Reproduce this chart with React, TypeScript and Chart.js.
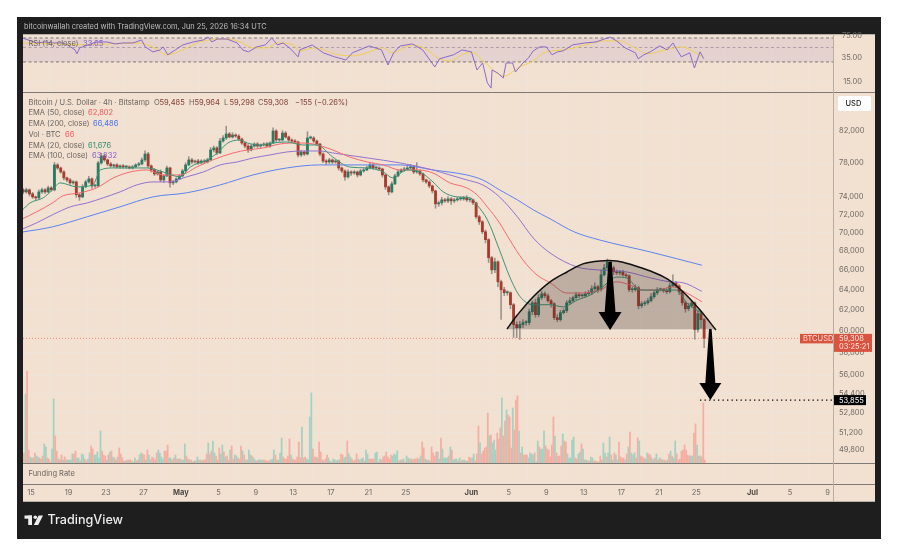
import React, { useEffect, useRef } from "react";
import { Chart, registerables } from "chart.js";

Chart.register(...registerables);

// ---------- tick labels ----------
const priceTicks = [82000, 78000, 74000, 72000, 70000, 68000, 66000, 64000, 62000, 60000, 58000, 56000, 54400, 52800, 51200, 49800];
const rsiTicks = [75, 35, 15];
const dateTickDays = [0, 4, 8, 12, 16, 20, 24, 28, 32, 36, 40, 47, 51, 55, 59, 63, 67, 71, 77, 81, 85];
const dateTickLabels = ["15", "19", "23", "27", "May", "5", "9", "13", "17", "21", "25", "Jun", "5", "9", "13", "17", "21", "25", "Jul", "5", "9"];
const monthLabels = ["May", "Jun", "Jul"];

// ---------- candles: one every 8 hours, days counted from Apr 15 ----------
const firstCandleDay = -0.83;
const firstOpen = 74800;
const closes = [
  74560, 74800, 74330, 73980, 73870, 74560, 74800, 74560, 75030, 74800,
  77770, 77400, 76920, 76210, 75970, 75620, 75730, 74220, 73980, 75150,
  75730, 76090, 75260, 75260, 78010, 78870, 78380, 77890, 77650, 77770,
  77530, 77650, 77530, 77530, 77400, 77530, 77770, 77890, 78380, 79110,
  77650, 77160, 76680, 76920, 75970, 76450, 77400, 75620, 75730, 76090,
  76450, 77040, 77770, 78380, 78130, 78250, 78010, 78250, 78130, 78380,
  79610, 79860, 79240, 80730, 81110, 81620, 81240, 81490, 81360, 80980,
  80480, 80100, 79610, 80100, 80350, 80100, 80230, 80350, 80100, 80480,
  82000, 80860, 80860, 81740, 81240, 80860, 80730, 80610, 78990, 79360,
  79110, 81110, 81110, 80730, 80350, 79110, 78250, 78130, 78380, 78130,
  78250, 77400, 77040, 76330, 76920, 76800, 76920, 76560, 77040, 77160,
  77400, 77770, 77400, 77400, 77280, 76560, 75150, 74560, 75500, 76450,
  76920, 77160, 77280, 77400, 77530, 76920, 77040, 76680, 75970, 75730,
  75260, 74680, 73180, 73300, 73640, 73520, 73750, 73520, 73640, 73750,
  73750, 73870, 73640, 73640, 73300, 71720, 71160, 70060, 69200, 67270,
  66010, 66840, 64790, 63990, 63690, 63690, 62510, 60600, 60310, 60600,
  60780, 60780, 61830, 62700, 61550, 63200, 63590, 63390, 62900, 62610,
  61260, 61070, 61740, 61930, 62700, 62900, 63200, 63490, 63390, 63390,
  63590, 63690, 64090, 64290, 63990, 65500, 66220, 66840, 66220, 65810,
  65700, 65810, 65500, 65400, 63990, 63990, 64190, 62410, 62610, 62700,
  62900, 63300, 63690, 63990, 63990, 63890, 63790, 64390, 64690, 64390,
  63790, 62700, 62120, 62410, 62700, 60130, 61640, 61070, 59308,
];
const wickUp = [
  150, 200, 120, 180, 100, 250, 200, 150, 220, 150,
  300, 180, 120, 150, 100, 200, 150, 120, 180, 260,
  200, 300, 120, 150, 200, 350, 150, 120, 180, 100,
  150, 120, 180, 100, 130, 200, 150, 180, 250, 400,
  200, 120, 180, 150, 250, 120, 220, 100, 180, 130,
  150, 200, 250, 400, 180, 120, 200, 150, 180, 200,
  300, 250, 180, 350, 300, 1000, 200, 300, 150, 180,
  120, 100, 180, 200, 150, 180, 130, 160, 200, 150,
  400, 180, 150, 300, 200, 120, 150, 180, 100, 200,
  150, 810, 250, 180, 120, 100, 150, 180, 200, 120,
  180, 120, 100, 150, 250, 130, 180, 120, 200, 180,
  220, 250, 180, 130, 150, 100, 90, 120, 250, 200,
  180, 150, 200, 220, 300, 180, 1000, 150, 120, 100,
  120, 100, 90, 200, 300, 180, 260, 150, 180, 200,
  220, 180, 250, 130, 100, 80, 150, 120, 200, 100,
  150, 400, 120, 180, 250, 200, 100, 120, 250, 300,
  300, 200, 250, 180, 350, 300, 250, 180, 200, 150,
  120, 300, 250, 180, 220, 300, 150, 250, 180, 150,
  200, 250, 300, 400, 150, 500, 350, 300, 120, 180,
  200, 150, 180, 120, 100, 250, 300, 180, 220, 180,
  250, 300, 200, 220, 180, 150, 200, 300, 800, 150,
  120, 100, 180, 250, 200, 100, 300, 250, 120,
];
const wickDown = [
  200, 150, 250, 180, 300, 120, 180, 220, 100, 150,
  120, 180, 150, 250, 200, 180, 150, 300, 400, 100,
  120, 150, 300, 180, 100, 150, 180, 220, 150, 200,
  120, 180, 150, 200, 120, 130, 100, 150, 120, 180,
  200, 250, 180, 150, 200, 300, 100, 500, 200, 120,
  100, 150, 120, 100, 200, 150, 180, 120, 200, 130,
  120, 250, 200, 100, 150, 180, 120, 150, 180, 200,
  180, 250, 300, 120, 150, 180, 200, 150, 120, 180,
  100, 200, 180, 120, 150, 180, 200, 150, 250, 180,
  200, 120, 150, 200, 180, 250, 200, 300, 180, 200,
  150, 250, 200, 400, 150, 300, 180, 250, 120, 150,
  100, 120, 180, 200, 150, 250, 300, 350, 120, 100,
  120, 100, 180, 150, 120, 200, 150, 180, 250, 180,
  200, 250, 500, 300, 250, 180, 200, 400, 200, 150,
  180, 150, 200, 250, 200, 180, 300, 200, 350, 500,
  400, 300, 500, 2900, 300, 250, 400, 1200, 930, 1100,
  300, 250, 200, 300, 250, 200, 180, 200, 150, 350,
  200, 200, 150, 120, 180, 150, 120, 180, 200, 150,
  120, 100, 180, 200, 300, 150, 120, 200, 250, 300,
  180, 200, 150, 180, 200, 250, 150, 300, 200, 180,
  150, 120, 180, 200, 150, 180, 200, 120, 100, 180,
  300, 250, 350, 200, 150, 900, 250, 800, 850,
];

// ---------- volume: one every 4 hours, positive = up bar, negative = down bar ----------
const firstVolumeDay = -0.75;
const volumes = [
  -10, 69, -92, -13, 6, 5, -5, -10, 7, 6, -5, -4, -7, 19, 16, -5, -4, -1, 14, 64, -27, -12, 4, -3, -8, 3, -6, -3, 3, 3, 3, 9, -9, -12, 5, 5, -2, 9, 8, -4,
  -2, 4, 10, -17, -14, 8, 8, 11, 5, 32, -12, -8, -7, 3, -8, 11, -12, 6, -5, -3, 6, -15, -9, -5, -2, 2, -3, 3, -3, -2, 1, 5, -2, -3, 8, 10, -9, -8, 3, -13,
  8, 3, -6, -5, -3, -10, 13, 10, 6, 4, -12, -12, -18, 5, 5, -3, -5, 8, -4, 4, -4, 3, 3, 19, -7, -4, 3, -3, -1, 2, -2, 6, 3, -3, 2, -3, -3, -9, 20, -9,
  -12, 22, 10, -7, -3, -15, 9, 18, -11, 6, -7, -3, 13, -17, -4, 8, 7, -5, -4, -17, 12, -8, 3, -3, 13, 8, -7, 5, 3, -2, 3, -3, 3,
  3, -3, -2, -2, -2, 3, 4, 13, -8, -3, 3, 10, 25, -6, -4, -4, -7, -24, 8, -4, -3, -3, -6, -21, -5, 36, -5, -6, 4, 3, 46, 70, -14, -6, -6, 5, -21, -11, -3, 2,
  -4, -8, 5, 2, -1, 4, 3, -2, 3, 3, -9, -8, 5, 6, -22, 9, 6, -4, -2, -3, -9, 4, -3, 4, 5, -2, 13, 9, -4, -4, -4, -4, 10, 11, -1, 4, -3, -6, -7, -11,
  -6, -4, -8, 7, 9, 8, 12, -2, -3, 3, 4, -1, 7, 5, -4, 4, -3, -4, -4, -5, 4, 7, -21, -15, 4, 3, -3, 2, -16, -10, -7, -11, 11, 4, -25, 14, 5, 5, 5, -7,
  16, -13, 3, 4, 4, -2, 5, -2, 3, 3, -2, 2, -6, -5, 5, 9, -2, -9, -37, 20, -9,
  -12, -15, -16, -50, 27, -28, 20, 23, 13, -30, -24, -35, 65, -27, -42, 53, -48, -46, -15, 55, -33, -63, -67, 32, -10, 16, -8, -8, -8, 5, 10, 9, 8, -10, 1, 22, -16, 14, 14, 32,
  -17, -14, -13, -6, -18, -46, 27, -10, -7, -7, -17, 29, -22, -21, 9, 5, 5, 23, 26, -5, -4, 9, 11, -19, 14, -3, 3, 2, -2, 6, 5, -2, -2, -1, 1, -7, -3, 20, 10, -6,
  10, 26, -8, 3, -10, 8, 3, -21, -6, -5, -5, 3, -9, 16, -31, 10, 8, 10, -5, -25, 22, -7, -6, -5, 4, 10, -9, -8, 5, 3, -5, 9, -3, 5, -4, 3, -3, -2, 3, -9,
  12, -7, 5, 22, -9, -3, -4, -12, -13, -18, -13, -8, -7, 7, 7, -30, -39, 18, -7, 7, -6, -60, -3,
];

// ---------- moving averages ----------
const ema200Days = [-0.9, 2.3, 6, 9.5, 13, 16.6, 20.2, 23.7, 27.3, 30.8, 32.2, 35.9, 39.4, 42.9, 46.5, 48.2, 50, 51.9, 53.6, 55.4, 58, 60.7, 66.1, 71.6];
const ema200 = [70030, 70600, 71720, 72840, 73980, 74450, 75380, 76560, 77400, 77770, 77770, 77770, 77770, 77160, 76560, 75970, 74800, 73640, 72500, 71490, 70030, 69160, 67880, 66486];

const ema100Days = [-0.9, 0.6, 2.3, 4.2, 6, 7.7, 9.5, 11.3, 13, 14.8, 16.6, 18.4, 20.2, 22, 23.7, 25.5, 27.3, 29, 30.8, 32.2, 35.9, 39.4, 42.9, 44.7, 46.5, 48.2, 50, 51.9, 53.6, 55.4, 58.3, 60.7, 63.6, 66.1, 68.2, 69.6, 71.6];
const ema100 = [70360, 71040, 71940, 72840, 73290, 73870, 74560, 75380, 75730, 75730, 76330, 76920, 77770, 78130, 78620, 78990, 79360, 79480, 79480, 79240, 78620, 78010, 77160, 76560, 75970, 75380, 73980, 71720, 69380, 67770, 66300, 65990, 65790, 65190, 64790, 64690, 63832];

const ema50Days = [-0.9, 0.6, 2.3, 3.4, 5.2, 7, 8.8, 10.6, 12.4, 14.1, 15.9, 17.7, 19.4, 21.6, 23.1, 24.8, 26.6, 28.4, 30.1, 32.2, 34, 35.9, 37.6, 39.4, 41.2, 42.9, 44.7, 46.5, 47.6, 48.7, 50, 51.1, 52.5, 54, 55.4, 57.2, 58.9, 60.7, 62.5, 63.9, 65.3, 66.8, 68.5, 70, 71.6];
const ema50 = [71490, 72270, 73290, 74100, 74450, 75030, 76210, 76920, 77160, 76560, 76560, 77520, 78380, 79240, 79610, 79860, 80360, 80480, 80360, 79610, 78740, 78130, 77770, 77160, 77160, 76800, 75620, 75030, 74220, 72840, 71040, 69160, 67040, 65480, 64690, 63660, 63660, 63960, 64790, 64480, 63960, 63960, 64280, 63660, 62802];

const ema20Days = [-0.9, -0.1, 1.3, 2.3, 3.1, 4.9, 6.6, 7.4, 8.8, 10.6, 12.4, 14.1, 15.9, 17, 18.8, 19.9, 21, 22.3, 23.1, 24.4, 25.8, 27.3, 29, 30.5, 32.2, 34, 35.9, 37.6, 38.6, 40.1, 41.5, 42.9, 44, 45.5, 46.9, 47.6, 48.7, 50, 51.1, 52.2, 53.6, 55.4, 56.8, 58.3, 59.7, 61, 62.5, 63.6, 65, 66.8, 68.9, 70, 71.6];
const ema20 = [72500, 73290, 73870, 74800, 75620, 75150, 75380, 77160, 77400, 77400, 77400, 76920, 76330, 77520, 78380, 79240, 80480, 80860, 80480, 80230, 80480, 80610, 80230, 80230, 78740, 77520, 77400, 76920, 76210, 77160, 76920, 75730, 74560, 73980, 73870, 73060, 71380, 68090, 65270, 63300, 62510, 62510, 62300, 62970, 63470, 64280, 65270, 65170, 63960, 63960, 63960, 62670, 61676];

// ---------- RSI and its moving average ----------
const rsiDays = [
  -0.9, -0.3, 0.6, 1.5, 2.3, 3.4, 3.9, 4.7, 4.9, 5.2, 6.1, 7, 8.1, 9, 9.8, 10.9, 11.8, 12.2, 13, 13.8, 14.1, 14.6, 15.4, 16.2, 17.3, 18.4, 18.9, 19.3, 19.9, 20.9, 22, 22.6, 23.2, 24.1, 25, 25.7, 26.3, 26.9, 27.6, 28.5,
  28.7, 30, 31.2, 32.4, 32.8, 33.6, 34.3, 36.1, 37.4, 38.1, 38.7, 39.4, 40.7, 41.8, 43.1, 43.6, 45.1, 46, 47, 47.6, 48.2, 48.7, 49.1, 49.2, 49.8, 50.4, 50.7, 51.4, 51.7, 52.5, 53.1, 53.6, 54.3, 55, 55.6, 56.2, 56.8, 57.8, 59.1, 60.3, 61.2, 61.8, 62.5, 63.4, 64.5, 64.8, 65.4, 66.1, 67.1, 67.9, 68.5, 69.4, 70.3, 70.8, 71.4, 71.8,
];
const rsiValues = [
  69.9, 65.2, 58.7, 60.8, 58.7, 58.7, 54.7, 45.9, 39.9, 49.3, 54.7, 60.8, 60.8, 56.7, 58.7, 58.7, 65.2, 51, 42.8, 45.9, 51, 38.6, 45.9, 54.7, 60.8, 65.2, 72.4, 60.8, 67.5, 67.5, 58.7, 45.9, 42.8, 51, 54.7, 69.9, 54.7, 58.7, 49.3, 35.9,
  45.9, 54.7, 41.4, 35.9, 34.7, 32.1, 41.4, 52.8, 45.9, 26.9, 41.4, 52.8, 56.7, 45.9, 25.1, 33.5, 38.6, 45.9, 42.8, 22.6, 28.9, 14.3, 11.9, 22.6, 20.3, 17, 28.9, 28.9, 21, 28.9, 34.7, 44.4, 51, 51, 38.6, 42.8, 44.4, 54.7, 58.7, 60.8, 67.5, 72.4, 63, 49.3, 41.4, 33.5, 38.6, 42.8, 52.8, 45.9, 58.7, 35.9, 41.4, 24.2, 42.8, 33.65,
];
const rsiMaDays = [-0.9, 3.1, 5.5, 8.4, 11.6, 13.2, 14.5, 16.2, 18, 20.9, 22.3, 23.7, 25.2, 26.3, 28, 28.7, 30.3, 32.8, 34.5, 36.1, 37.6, 38.5, 40.7, 42.3, 43.4, 44.7, 46, 47, 48.5, 50.5, 52.1, 53.4, 55, 57, 59.1, 61.2, 62.8, 64.5, 65.8, 67.7, 69.4, 71, 71.8];
const rsiMaValues = [58.7, 56.7, 54.7, 56.7, 58.7, 49.3, 38.6, 45.9, 60.8, 67.5, 60.8, 49.3, 49.3, 58.7, 54.7, 44.4, 49.3, 38.6, 37.3, 42.8, 49.3, 41.4, 54.7, 45.9, 34.7, 31, 38.6, 42.8, 28.9, 18.2, 25.1, 30, 42.8, 45.9, 54.7, 63, 63, 49.3, 39.9, 45.9, 51, 41.4, 34.7];

// ---------- drawings on the chart ----------
const domeDays = [50.8, 51.9, 53.6, 55.4, 57.2, 58.9, 60.7, 62.5, 64.2, 66.1, 67.9, 69.6, 71.4, 73.1];
const domePrices = [60190, 61510, 63300, 64790, 65790, 66630, 66940, 66940, 66510, 65890, 65080, 63760, 61990, 60090];
const domeBase = 60150;
const targetPrice = 53855;
const lastPrice = 59308;
const measuredArrow = { day: 61.8, from: 66820, to: 60090 };
const targetArrow = { day: 72.5, from: 60190, to: 53855 };

// ---------- texts ----------
const titleText = "bitcoinwallah created with TradingView.com, Jun 25, 2026 16:34 UTC";
const rsiLegend = { label: "RSI (14, close)", value: "33.65" };
const symbolLegend = "Bitcoin / U.S. Dollar · 4h · Bitstamp";
const ohlcLegend: [string, string][] = [["O", "59,485"], ["H", "59,964"], ["L", "59,298"], ["C", "59,308"]];
const changeLegend = "−155 (−0.26%)";
const indicatorLegends: [string, string, string][] = [
  ["EMA (50, close)", "62,802", "#F2545F"],
  ["EMA (200, close)", "66,486", "#3F6FF0"],
  ["Vol · BTC", "66", "#F2545F"],
  ["EMA (20, close)", "61,676", "#2F8C6F"],
  ["EMA (100, close)", "63,832", "#8460C8"],
];

const BG = "#F2E0D0";
const GRID = "#EDE4DC";
const AXIS_TEXT = "#6E6A66";
const LEGEND_TEXT = "#6A6560";
const FONT = "Inter, Roboto, sans-serif";
const UP = "#2A7B62";
const DOWN = "#A83A2E";

const X_MIN = -0.854;
const X_MAX = 85.59;

const candleDay = (i: number) => firstCandleDay + i / 3;
const pts = (xs: number[], ys: number[]) => xs.map((x, i) => ({ x, y: ys[i] }));
const opens = closes.map((_, i) => (i === 0 ? firstOpen : closes[i - 1]));
const isUp = closes.map((c, i) => c >= opens[i]);

function lineSet(label: string, data: any[], color: string, yAxisID: string, extra: any = {}) {
  return {
    type: "line" as const, label, data, yAxisID, xAxisID: "x", borderColor: color, borderWidth: 1,
    pointRadius: 0, backgroundColor: color, fill: false, ...extra,
  };
}

const drawArrow = (ctx: CanvasRenderingContext2D, x: number, top: number, tip: number, headHalf: number, headH: number, shaftHalf: number, topHalf: number) => {
  ctx.beginPath();
  ctx.moveTo(x - topHalf, top);
  ctx.lineTo(x + topHalf, top);
  ctx.lineTo(x + shaftHalf, tip - headH);
  ctx.lineTo(x + headHalf, tip - headH);
  ctx.lineTo(x, tip);
  ctx.lineTo(x - headHalf, tip - headH);
  ctx.lineTo(x - shaftHalf, tip - headH);
  ctx.closePath();
  ctx.fillStyle = "#000";
  ctx.fill();
};

const framePlugin = {
  id: "frame",
  beforeDraw(chart: any) {
    const c: CanvasRenderingContext2D = chart.ctx;
    c.save();
    c.fillStyle = "#fff";
    c.fillRect(0, 0, 900, 557);
    c.fillStyle = "#1E1E1E";
    c.fillRect(17, 17, 864, 522);
    c.fillStyle = BG;
    c.fillRect(23, 34, 852, 467.5);
    c.restore();
  },
  afterDatasetsDraw(chart: any) {
    const c: CanvasRenderingContext2D = chart.ctx;
    const px = chart.scales.x;
    const py = chart.scales.y;
    c.save();
    // arrows
    drawArrow(c, px.getPixelForValue(measuredArrow.day), py.getPixelForValue(measuredArrow.from), py.getPixelForValue(measuredArrow.to), 11.5, 18, 5.4, 1.6);
    drawArrow(c, px.getPixelForValue(targetArrow.day), py.getPixelForValue(targetArrow.from), py.getPixelForValue(targetArrow.to), 11, 17, 5, 1.3);
    // pane separators and frame lines
    c.fillStyle = "#7E7A76";
    c.fillRect(23, 92, 852, 1);
    c.fillRect(23, 463, 852, 1);
    c.fillRect(23, 484, 852, 1);
    c.fillStyle = "#B9AEA4";
    c.fillRect(833, 34, 1, 467);
    c.fillRect(23, 501, 852, 1);
    c.fillRect(23, 34, 852, 1);
    // texts
    c.textBaseline = "middle";
    c.textAlign = "left";
    const text = (s: string, x: number, y: number, color: string, font = `7.5px ${FONT}`) => {
      c.font = font;
      c.fillStyle = color;
      c.fillText(s, x, y);
    };
    text(titleText, 24, 27, "#BDBDBD", `7.4px ${FONT}`);
    text(rsiLegend.label, 28.5, 43.5, LEGEND_TEXT);
    text(rsiLegend.value, 83, 43.5, "#8460C8");
    text(symbolLegend, 28.5, 103, LEGEND_TEXT);
    const ohlcX = [154, 189, 224, 258];
    ohlcLegend.forEach(([k, v], i) => {
      text(k, ohlcX[i], 103, LEGEND_TEXT);
      text(v, ohlcX[i] + 5.5, 103, "#7E3B32");
    });
    text(changeLegend, 295, 103, "#7E3B32");
    const rowY = [113, 124, 134.5, 145.5, 156];
    const valX = [88, 93, 65, 88, 92];
    indicatorLegends.forEach(([label, value, color], i) => {
      text(label, 28.5, rowY[i], LEGEND_TEXT);
      text(value, valX[i], rowY[i], color);
    });
    text("Funding Rate", 28.5, 473.5, LEGEND_TEXT);
    // price labels
    const yLast = py.getPixelForValue(lastPrice);
    const yTarget = py.getPixelForValue(targetPrice);
    c.fillStyle = "#D9533F";
    c.fillRect(800, yLast - 4.5, 33, 9.5);
    c.fillRect(834, yLast - 4.5, 38, 18);
    text("BTCUSD", 803, yLast + 0.3, "#F8DDD5");
    text("59,308", 839, yLast + 0.3, "#FBE9E2");
    text("03:25:21", 839, yLast + 8.3, "#FBE9E2");
    c.fillStyle = "#000";
    c.fillRect(834, yTarget - 5, 32, 10);
    text("53,855", 839, yTarget + 0.3, "#fff");
    // currency button
    c.fillStyle = "#fff";
    c.beginPath();
    c.roundRect(838, 96, 33, 15, 2);
    c.fill();
    text("USD", 845.5, 103.5, "#222", `500 7.5px ${FONT}`);
    // brand
    c.fillStyle = "#EDEDED";
    c.fillRect(24.5, 515.5, 7.5, 3.2);
    c.fillRect(28.2, 515.5, 3.8, 9.5);
    c.beginPath();
    c.arc(35.3, 517.2, 1.8, 0, Math.PI * 2);
    c.fill();
    c.beginPath();
    c.moveTo(38.6, 515.5);
    c.lineTo(43, 515.5);
    c.lineTo(38.2, 525);
    c.lineTo(33.8, 525);
    c.closePath();
    c.fill();
    text("TradingView", 47.5, 520.5, "#EDEDED", `500 12.6px ${FONT}`);
    c.restore();
  },
};

export default function App() {
  const ref = useRef<HTMLCanvasElement>(null);
  useEffect(() => {
    if (!ref.current) return;
    const bodyData = closes.map((c, i) => ({ x: candleDay(i), y: [opens[i], c] }));
    const wickData = closes.map((c, i) => ({
      x: candleDay(i),
      y: [Math.min(opens[i], c) - wickDown[i], Math.max(opens[i], c) + wickUp[i]],
    }));
    const volData = volumes.map((v, i) => ({ x: firstVolumeDay + i / 6, y: Math.abs(v) }));
    const gridOpts = { color: GRID, lineWidth: 1, drawTicks: false };
    const rightAxis = (extra: any) => ({
      type: "logarithmic",
      position: "right",
      border: { display: false },
      grid: gridOpts,
      ...extra,
    });
    const tickStyle = { color: AXIS_TEXT, font: { family: FONT, size: 7.5 }, padding: 6, autoSkip: false };
    const chart = new Chart(ref.current, {
      type: "bar",
      data: {
        datasets: [
          lineSet("Dome", pts(domeDays, domePrices), "#111", "y", { borderWidth: 1.5, tension: 0.35, fill: { value: domeBase }, backgroundColor: "rgba(50,42,38,0.27)", order: 1 }),
          lineSet("EMA 20", pts(ema20Days, ema20), "#3F9478", "y", { cubicInterpolationMode: "monotone", order: 2 }),
          lineSet("EMA 50", pts(ema50Days, ema50), "#F56A70", "y", { cubicInterpolationMode: "monotone", order: 3 }),
          lineSet("EMA 100", pts(ema100Days, ema100), "#9473D0", "y", { cubicInterpolationMode: "monotone", order: 4 }),
          lineSet("EMA 200", pts(ema200Days, ema200), "#5C84F2", "y", { cubicInterpolationMode: "monotone", order: 5 }),
          lineSet("Target", [{ x: 71.4, y: targetPrice }, { x: X_MAX, y: targetPrice }], "#000", "y", { borderDash: [1.3, 3.2], borderWidth: 1.2, order: 0 }),
          lineSet("Last", [{ x: X_MIN, y: lastPrice }, { x: X_MAX, y: lastPrice }], "#EE8A7C", "y", { borderDash: [1, 2], order: 9 }),
          {
            type: "bar", label: "Bodies", data: bodyData, yAxisID: "y", xAxisID: "x", grouped: false, barThickness: 2.2, minBarLength: 1,
            backgroundColor: isUp.map((u) => (u ? UP : DOWN)), borderWidth: 0, order: 6,
          },
          {
            type: "bar", label: "Wicks", data: wickData, yAxisID: "y", xAxisID: "x", grouped: false, barThickness: 0.9,
            backgroundColor: "#98918C", borderWidth: 0, order: 7,
          },
          {
            type: "bar", label: "Volume", data: volData, yAxisID: "vol", xAxisID: "x", grouped: false, barThickness: 1.1,
            backgroundColor: volumes.map((v) => (v >= 0 ? "#A3D2C3" : "#F6AEA2")), borderWidth: 0, order: 8,
          },
          lineSet("RSI", pts(rsiDays, rsiValues), "#8A6BCB", "rsi", { order: 10 }),
          lineSet("RSI MA", pts(rsiMaDays, rsiMaValues), "#F3CF55", "rsi", { cubicInterpolationMode: "monotone", order: 11 }),
          lineSet("RSI 70", [{ x: X_MIN, y: 70 }, { x: X_MAX, y: 70 }], "#7E7A76", "rsi", { borderDash: [3, 2.5], fill: { value: 30 }, backgroundColor: "rgba(126,87,194,0.11)", order: 12 }),
          lineSet("RSI 50", [{ x: X_MIN, y: 50 }, { x: X_MAX, y: 50 }], "#B3A6A2", "rsi", { borderDash: [3, 2.5], order: 13 }),
          lineSet("RSI 30", [{ x: X_MIN, y: 30 }, { x: X_MAX, y: 30 }], "#7E7A76", "rsi", { borderDash: [3, 2.5], order: 14 }),
        ] as any,
      },
      options: {
        responsive: false,
        maintainAspectRatio: false,
        animation: false,
        events: [],
        layout: { padding: { left: 23, top: 34, right: 25, bottom: 56 } },
        plugins: { legend: { display: false }, tooltip: { enabled: false }, title: { display: false } },
        scales: {
          x: {
            type: "linear",
            min: X_MIN,
            max: X_MAX,
            offset: false,
            border: { display: false },
            grid: gridOpts,
            afterBuildTicks: (s: any) => { s.ticks = dateTickDays.map((value) => ({ value })); },
            afterFit: (s: any) => { s.height = 17; },
            ticks: {
              autoSkip: false,
              maxRotation: 0,
              padding: 4,
              font: (ctx: any) => ({ family: FONT, size: 7.5, weight: monthLabels.includes(dateTickLabels[ctx.index]) ? "bold" : "normal" }),
              color: (ctx: any) => (monthLabels.includes(dateTickLabels[ctx.index]) ? "#4E4A47" : AXIS_TEXT),
              callback: (_: any, i: number) => dateTickLabels[i],
            },
          },
          rsi: rightAxis({
            min: 1e-5,
            max: 80.5,
            weight: 1,
            afterBuildTicks: (s: any) => { s.ticks = rsiTicks.map((value) => ({ value })); },
            afterFit: (s: any) => { s.width = 0; },
            ticks: { ...tickStyle, mirror: true, padding: 29, z: 1, callback: (v: number) => v.toFixed(2) },
          }),
          y: rightAxis({
            min: 47240,
            max: 95420,
            weight: 2,
            afterBuildTicks: (s: any) => { s.ticks = priceTicks.map((value) => ({ value })); },
            afterFit: (s: any) => { s.width = 42; },
            ticks: { ...tickStyle, callback: (v: number) => v.toLocaleString("en-US") },
          }),
          vol: { type: "linear", display: false, min: -21, max: 429 },
        },
      } as any,
      plugins: [framePlugin],
    });
    return () => chart.destroy();
  }, []);
  return (
    <div style={{ position: "absolute", left: 0, top: 0, width: 900, height: 557 }}>
      <canvas ref={ref} width={900} height={557} style={{ display: "block", filter: "blur(0.4px)" }} />
    </div>
  );
}
